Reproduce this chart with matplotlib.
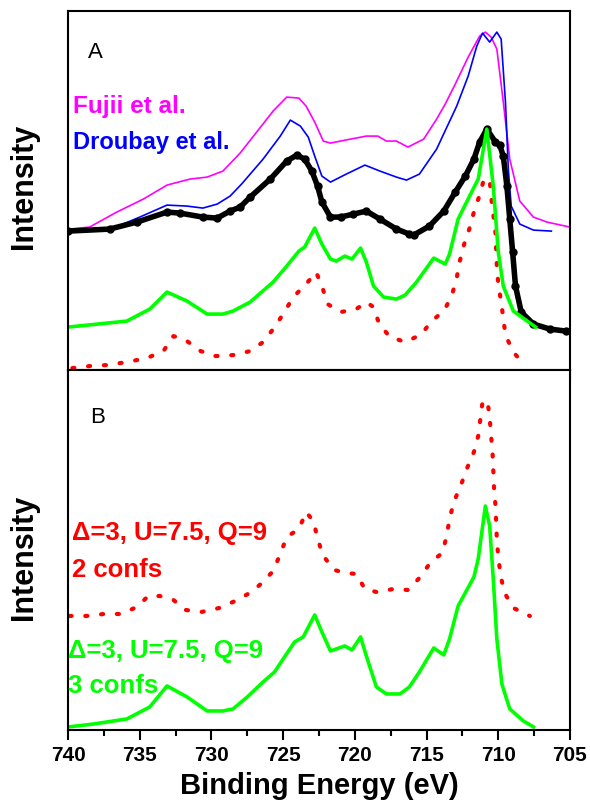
import matplotlib.pyplot as plt
from matplotlib.ticker import MultipleLocator

# Panel A: measured spectra (offset, arbitrary units)
fujii_e = [739.9, 738.5, 736.6, 734.75, 733.1, 731.5, 730.3, 729.2, 728.0, 726.85, 725.7, 724.75,
           723.9, 723.4, 722.8, 722.2, 721.7, 720.3, 719.2, 718.4, 717.8, 717.1, 716.3, 715.2,
           714.3, 713.7, 713.0, 712.1, 711.3, 710.9, 710.5, 710.1, 709.65, 709.2, 708.5, 707.55,
           706.6, 705.0]
fujii_i = [141, 143, 158, 171, 185, 191, 193, 199, 217, 238, 259, 273,
           272, 264, 248, 229, 227, 231, 234, 234, 229, 229, 223, 231,
           251, 266, 286, 313, 334, 338, 333, 321, 268, 211, 169, 153,
           148, 143]

droubay_e = [737.0, 735.0, 733.1, 731.7, 730.6, 729.6, 728.7, 727.9, 726.4, 725.2, 724.5, 723.8,
             723.25, 722.8, 722.3, 721.7, 720.6, 719.3, 718.25, 717.1, 716.4, 715.5, 714.3, 712.9,
             712.1, 711.5, 711.1, 710.6, 710.1, 709.8, 709.5, 709.3, 709.1, 708.5, 707.55, 706.3]
droubay_i = [141, 153, 165, 164, 162, 166, 174, 186, 211, 234, 250, 244,
             233, 214, 194, 188, 196, 205, 199, 193, 190, 196, 221, 264,
             294, 324, 337, 328, 338, 331, 268, 201, 164, 146, 140, 139]

exp_e = [740.0, 737.1, 735.2, 733.1, 732.2, 730.6, 729.6, 728.7, 728.0, 727.3, 725.9, 724.75,
         724.05, 723.5, 723.0, 722.6, 722.3, 721.7, 721.0, 720.1, 719.2, 718.25, 717.1, 716.2,
         715.9, 714.8, 713.8, 713.0, 712.3, 711.7, 711.3, 710.8, 710.2, 709.9, 709.65, 709.4,
         709.2, 709.0, 708.8, 708.4, 707.55, 706.4, 705.3]
exp_i = [139, 141, 148, 158, 157, 153, 152, 159, 163, 173, 191, 209,
         215, 211, 199, 184, 168, 153, 153, 156, 159, 151, 141, 136,
         135, 144, 159, 178, 194, 211, 228, 241, 228, 225, 214, 184,
         151, 118, 84, 58, 46, 41, 39]

calc3a_e = [740.0, 735.9, 734.3, 733.1, 731.7, 730.3, 729.2, 728.5, 727.3, 725.7, 724.75, 723.9,
            723.5, 722.8, 722.3, 721.7, 721.3, 720.7, 720.2, 719.6, 719.2, 718.7, 718.0, 717.1,
            716.5, 715.7, 714.5, 713.7, 713.4, 712.8, 712.0, 711.4, 710.8, 710.35, 710.0, 709.65,
            708.95, 707.4]
calc3a_i = [43, 49, 61, 78, 69, 56, 56, 59, 68, 88, 104, 119,
            123, 142, 126, 111, 109, 114, 111, 122, 108, 84, 73, 71,
            75, 88, 112, 106, 116, 151, 174, 191, 241, 184, 118, 84,
            59, 43]

calc2a_e = [739.7, 738.5, 737.3, 735.9, 734.5, 733.35, 732.65, 731.8, 730.75, 729.7, 728.5, 727.3,
            726.4, 725.7, 725.0, 724.3, 723.4, 722.7, 722.25, 721.9, 721.0, 719.9, 719.2, 718.7,
            718.3, 717.55, 716.45, 715.35, 714.65, 713.8, 713.25, 712.9, 712.7, 712.4, 712.0, 711.7,
            711.3, 711.0, 710.6, 710.5, 710.35, 710.2, 710.15, 710.1, 710.0, 709.8, 709.5, 708.95,
            708.1]
calc2a_i = [2, 4, 5, 8, 12, 19, 34, 30, 19, 14, 15, 19,
            28, 41, 56, 73, 86, 98, 82, 66, 58, 61, 68, 63,
            46, 33, 28, 36, 49, 59, 74, 92, 108, 125, 142, 158,
            175, 191, 190, 174, 156, 138, 121, 103, 86, 68, 35, 18,
            4]

# Panel B: calculated spectra
calc2b_e = [739.9, 738.7, 737.5, 736.3, 735.2, 734.4, 733.6, 732.65, 731.8, 730.7, 729.45, 728.35,
            727.2, 726.4, 725.7, 725.2, 724.75, 723.9, 723.4, 722.9, 722.6, 722.25, 721.45, 720.6,
            719.9, 719.3, 718.5, 717.3, 716.3, 715.5, 714.7, 713.9, 713.6, 713.4, 713.1, 712.6,
            712.2, 711.7, 711.4, 711.25, 711.1, 710.75, 710.6, 710.5, 710.4, 710.35, 710.3, 710.2,
            710.15, 710.1, 710.0, 709.85, 709.6, 708.95, 707.8]
calc2b_i = [114, 114, 116, 116, 123, 134, 134, 130, 120, 118, 122, 129,
            138, 148, 159, 176, 193, 201, 218, 209, 192, 175, 160, 157,
            156, 141, 138, 141, 140, 152, 168, 177, 194, 211, 228, 245,
            261, 278, 294, 311, 328, 329, 312, 294, 277, 260, 243, 225,
            208, 190, 173, 156, 138, 122, 114]

calc3b_e = [740.0, 738.2, 735.9, 734.3, 733.1, 731.7, 730.3, 729.2, 728.5, 727.5, 726.4, 725.6,
            725.0, 724.2, 723.6, 722.8, 722.3, 721.7, 720.7, 720.2, 719.6, 719.2, 718.5, 717.8,
            716.85, 716.2, 715.5, 714.5, 713.8, 713.4, 712.8, 711.7, 711.4, 710.9, 710.6, 710.35,
            710.1, 709.75, 709.2, 708.25, 707.55]
calc3b_i = [3, 6, 11, 23, 44, 33, 19, 19, 21, 33, 48, 58,
            71, 88, 93, 115, 98, 79, 84, 80, 93, 74, 43, 36,
            36, 43, 58, 82, 75, 91, 124, 153, 171, 224, 204, 151,
            91, 46, 21, 9, 3]

GREEN = "#00ff00"
RED = "#ff0000"
LABEL_FONT = "Liberation Sans"
dotted = (0, (0.5, 3.3))

fig = plt.figure(figsize=(5.9, 8.12), dpi=100)
ax_a = fig.add_axes([0.1153, 0.543, 0.8508, 0.4421])
ax_b = fig.add_axes([0.1153, 0.0998, 0.8508, 0.4433])

# Panel A
ax_a.plot(fujii_e, fujii_i, color="#ff00ff", lw=1.2, solid_joinstyle="round")
ax_a.plot(droubay_e, droubay_i, color="#0000ff", lw=1.2, solid_joinstyle="round")
ax_a.plot(exp_e, exp_i, color="black", lw=4, marker="o", ms=5, solid_joinstyle="round")
ax_a.plot(calc2a_e, calc2a_i, color=RED, lw=3, ls=dotted, dash_capstyle="round")
ax_a.plot(calc3a_e, calc3a_i, color=GREEN, lw=2.6, solid_joinstyle="round")
ax_a.set_ylim(0, 359)

ax_a.text(0.04, 0.872, "A", transform=ax_a.transAxes, fontsize=16, family=LABEL_FONT)
ax_a.text(0.01, 0.72, "Fujii et al.", transform=ax_a.transAxes, color="#ff00ff",
          fontsize=17.5, fontweight="bold", family=LABEL_FONT)
ax_a.text(0.01, 0.62, "Droubay et al.", transform=ax_a.transAxes, color="#0000ff",
          fontsize=17, fontweight="bold", family=LABEL_FONT)

# Panel B
ax_b.plot(calc2b_e, calc2b_i, color=RED, lw=3, ls=dotted, dash_capstyle="round")
ax_b.plot(calc3b_e, calc3b_i, color=GREEN, lw=2.6, solid_joinstyle="round")
ax_b.set_ylim(0, 360)

ax_b.text(0.044, 0.856, "B", transform=ax_b.transAxes, fontsize=16, family=LABEL_FONT)
ax_b.text(0.008, 0.53, "\u0394=3, U=7.5, Q=9", transform=ax_b.transAxes, color=RED,
          fontsize=18.5, fontweight="bold", family=LABEL_FONT)
ax_b.text(0.008, 0.428, "2 confs", transform=ax_b.transAxes, color=RED,
          fontsize=18.5, fontweight="bold", family=LABEL_FONT)
ax_b.text(0.0, 0.203, "\u0394=3, U=7.5, Q=9", transform=ax_b.transAxes, color=GREEN,
          fontsize=18.5, fontweight="bold", family=LABEL_FONT)
ax_b.text(0.0, 0.106, "3 confs", transform=ax_b.transAxes, color=GREEN,
          fontsize=18.5, fontweight="bold", family=LABEL_FONT)

for ax, ylab_y in [(ax_a, 0.515), (ax_b, 0.483)]:
    ax.set_xlim(740, 705)
    ax.xaxis.set_major_locator(MultipleLocator(5))
    ax.xaxis.set_minor_locator(MultipleLocator(2.5))
    ax.tick_params(axis="x", which="major", direction="out", length=7, width=1.5, top=False)
    ax.tick_params(axis="x", which="minor", direction="out", length=4.5, width=1.5, top=False)
    ax.set_yticks([])
    for sp in ax.spines.values():
        sp.set_linewidth(1.5)
    ax.set_ylabel("Intensity", fontsize=22, fontweight="bold", family=LABEL_FONT)
    ax.yaxis.set_label_coords(-0.058, ylab_y)

ax_a.tick_params(axis="x", labelbottom=False)
for lbl in ax_b.get_xticklabels():
    lbl.set_fontsize(15)
    lbl.set_fontweight("bold")
    lbl.set_family(LABEL_FONT)

ax_b.set_xlabel("Binding Energy (eV)", fontsize=21, fontweight="bold", family=LABEL_FONT)
ax_b.xaxis.set_label_coords(0.5, -0.114)

fig.savefig("out.png", dpi=100)
